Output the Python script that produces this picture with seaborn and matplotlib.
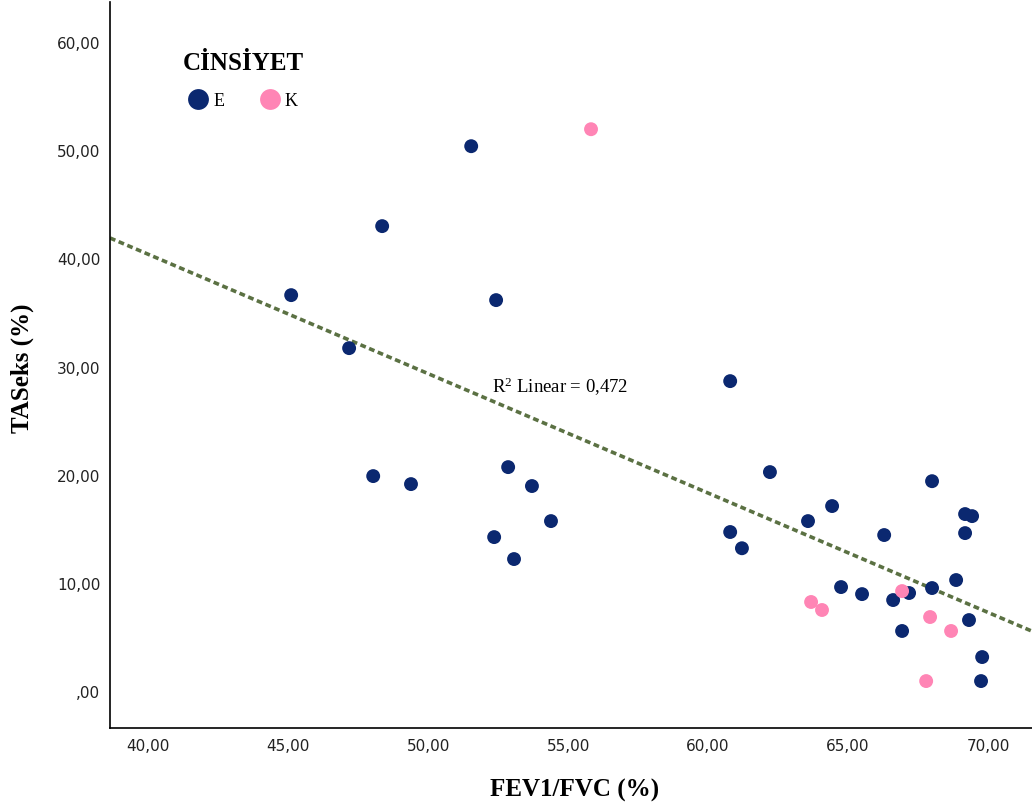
import numpy as np
import pandas as pd
import matplotlib
matplotlib.use("Agg")
import matplotlib.pyplot as plt
from matplotlib.font_manager import FontProperties
from matplotlib.ticker import FuncFormatter, MultipleLocator
import seaborn as sns

# FEV1/FVC (%) and TASeks (%) by sex group
fev_e = [51.54, 48.36, 45.11, 52.43, 47.18, 60.79, 48.04, 49.39, 52.86, 53.71,
         54.39, 52.36, 53.07, 62.21, 60.79, 61.21, 64.43, 63.57, 66.29, 68.00,
         69.18, 69.43, 69.18, 64.75, 65.50, 66.61, 67.18, 68.00, 68.86, 69.32,
         66.93, 69.79, 69.75]
tas_e = [50.37, 42.98, 36.60, 36.14, 31.70, 28.65, 19.87, 19.13, 20.70, 18.95,
         15.71, 14.23, 12.20, 20.24, 14.70, 13.20, 17.10, 15.71, 14.42, 19.40,
         16.36, 16.17, 14.60, 9.61, 8.96, 8.41, 9.06, 9.52, 10.26, 6.56,
         5.55, 3.14, 0.92]
fev_k = [55.82, 63.68, 64.07, 66.93, 67.93, 68.68, 67.79]
tas_k = [51.94, 8.23, 7.49, 9.24, 6.84, 5.55, 0.92]

groups = ["E", "K"]
colors = {"E": "#0b2870", "K": "#ff85b5"}
r2_label = r"R$^{2}$ Linear = 0,472"

df = pd.DataFrame({
    "FEV1/FVC (%)": fev_e + fev_k,
    "TASeks (%)": tas_e + tas_k,
    "CİNSİYET": [groups[0]] * len(fev_e) + [groups[1]] * len(fev_k),
})

sns.set_theme(style="white")
plt.rcParams["font.family"] = ["DejaVu Sans"]
plt.rcParams["text.color"] = "#000000"
plt.rcParams["axes.labelcolor"] = "#000000"
plt.rcParams["mathtext.fontset"] = "custom"
plt.rcParams["mathtext.rm"] = "Liberation Serif"
plt.rcParams["mathtext.it"] = "Liberation Serif:italic"
plt.rcParams["mathtext.bf"] = "Liberation Serif:bold"

fig = plt.figure(figsize=(10.32, 8.12), dpi=100)
ax = fig.add_axes([0.1066, 0.1022, 0.8934, 0.8941])
ax.set_xlim(38.64, 71.57)
ax.set_ylim(-3.42, 63.7)

sns.regplot(data=df, x="FEV1/FVC (%)", y="TASeks (%)", scatter=False, ci=None,
            truncate=False, ax=ax,
            line_kws=dict(color="#5b7143", lw=2.6, ls=(0, (1.6, 1.0))))
sns.scatterplot(data=df, x="FEV1/FVC (%)", y="TASeks (%)", hue="CİNSİYET",
                hue_order=groups, palette=colors, s=100, linewidth=0,
                ax=ax, zorder=3)

ax.set_xlim(38.64, 71.57)
ax.set_ylim(-3.42, 63.7)

def comma_fmt(v, _):
    s = f"{v:.2f}".replace(".", ",")
    return s[1:] if s.startswith("0,") else s

ax.xaxis.set_major_locator(MultipleLocator(5))
ax.yaxis.set_major_locator(MultipleLocator(10))
ax.xaxis.set_major_formatter(FuncFormatter(comma_fmt))
ax.yaxis.set_major_formatter(FuncFormatter(comma_fmt))
ax.tick_params(axis="both", length=0, labelsize=11, colors="#222222")
ax.tick_params(axis="x", pad=7)
ax.tick_params(axis="y", pad=7)

for side in ("top", "right"):
    ax.spines[side].set_visible(False)
for side in ("left", "bottom"):
    ax.spines[side].set_color("#000000")
    ax.spines[side].set_linewidth(1.2)

serif = ["Liberation Serif", "DejaVu Serif"]
ax.set_xlabel("FEV1/FVC (%)", fontsize=18, fontweight="bold", family=serif,
              va="top", color="#000000")
ax.set_ylabel("TASeks (%)", fontsize=18, fontweight="bold", family=serif,
              color="#000000")
ax.xaxis.set_label_coords(0.504, -0.0685)
ax.yaxis.set_label_coords(-0.0825, 0.497)

ax.text(52.29, 28.19, r2_label, fontsize=13.5, family=serif, va="center",
        ha="left", color="#000000")

sns.move_legend(ax, "upper left", bbox_to_anchor=(0.0615, 0.955), ncol=2,
                frameon=False, title="CİNSİYET", columnspacing=2.0,
                handlelength=1.0, handletextpad=0.35, markerscale=1.5,
                labelspacing=1.0, prop={"family": serif, "size": 13})
leg = ax.get_legend()
leg.get_title().set_fontproperties(FontProperties(family=serif, weight="bold", size=18))
leg.get_title().set_color("#000000")
for t in leg.get_texts():
    t.set_color("#000000")

fig.savefig("out.png", dpi=100)
